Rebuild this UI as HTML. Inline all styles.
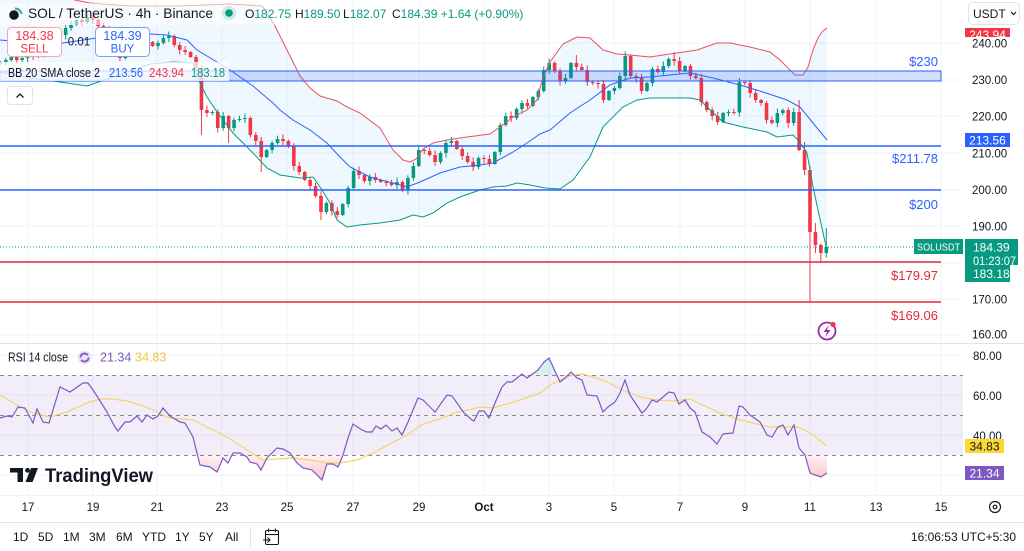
<!DOCTYPE html>
<html><head><meta charset="utf-8">
<style>
html,body{margin:0;padding:0;background:#fff;width:1024px;height:551px;overflow:hidden;}
svg{display:block;font-family:"Liberation Sans",Arial,sans-serif;}
</style></head>
<body>
<svg width="1024" height="551" viewBox="0 0 1024 551" xmlns="http://www.w3.org/2000/svg">
<defs>
<clipPath id="mainclip"><rect x="0" y="0" width="963" height="342"/></clipPath>
<clipPath id="osclip"><rect x="0" y="455" width="963" height="40"/></clipPath>
<clipPath id="obclip"><rect x="0" y="344" width="963" height="31"/></clipPath>
<clipPath id="redb"><rect x="965" y="28" width="45" height="9"/></clipPath>
<linearGradient id="osg" gradientUnits="userSpaceOnUse" x1="0" y1="455" x2="0" y2="482"><stop offset="0" stop-color="#f23645" stop-opacity="0.06"/><stop offset="1" stop-color="#f23645" stop-opacity="0.32"/></linearGradient>
</defs>
<rect width="1024" height="551" fill="#fff"/>

<!-- grid -->
<g stroke="#f0f3fa" stroke-width="1">
<line x1="28" y1="0" x2="28" y2="495"/><line x1="93" y1="0" x2="93" y2="495"/><line x1="157" y1="0" x2="157" y2="495"/><line x1="222" y1="0" x2="222" y2="495"/><line x1="287" y1="0" x2="287" y2="495"/><line x1="353" y1="0" x2="353" y2="495"/><line x1="419" y1="0" x2="419" y2="495"/><line x1="484" y1="0" x2="484" y2="495"/><line x1="549" y1="0" x2="549" y2="495"/><line x1="614" y1="0" x2="614" y2="495"/><line x1="680" y1="0" x2="680" y2="495"/><line x1="745" y1="0" x2="745" y2="495"/><line x1="810" y1="0" x2="810" y2="495"/><line x1="876" y1="0" x2="876" y2="495"/><line x1="941" y1="0" x2="941" y2="495"/>
<line x1="0" y1="43" x2="963" y2="43"/><line x1="0" y1="80" x2="963" y2="80"/><line x1="0" y1="116" x2="963" y2="116"/><line x1="0" y1="153" x2="963" y2="153"/><line x1="0" y1="190" x2="963" y2="190"/><line x1="0" y1="226" x2="963" y2="226"/><line x1="0" y1="263" x2="963" y2="263"/><line x1="0" y1="299" x2="963" y2="299"/><line x1="0" y1="335" x2="963" y2="335"/>
<line x1="0" y1="355" x2="963" y2="355"/><line x1="0" y1="395" x2="963" y2="395"/><line x1="0" y1="435" x2="963" y2="435"/><line x1="0" y1="475" x2="963" y2="475"/>
</g>

<g clip-path="url(#mainclip)">
<polygon id="bbfill" fill="#2196f3" fill-opacity="0.07" points="0,0"/>
<g id="candles"></g>
<polyline id="bbu" fill="none" stroke="#e8525d" stroke-width="1" points="0,0"/>
<polyline id="bbm" fill="none" stroke="#2962ff" stroke-width="1" points="0,0"/>
<polyline id="bbl" fill="none" stroke="#089981" stroke-width="1" points="0,0"/>
</g>

<!-- drawings -->
<rect x="0" y="71" width="941" height="10" fill="#2962ff" fill-opacity="0.2" stroke="#2962ff" stroke-width="1"/>
<line x1="0" y1="146" x2="941" y2="146" stroke="#2962ff" stroke-width="1.6"/>
<line x1="0" y1="190" x2="941" y2="190" stroke="#2962ff" stroke-width="1.6"/>
<line x1="0" y1="262" x2="941" y2="262" stroke="#e0283a" stroke-width="1.4"/>
<line x1="0" y1="302" x2="941" y2="302" stroke="#e0283a" stroke-width="1.4"/>
<line x1="0" y1="247" x2="913" y2="247" stroke="#089981" stroke-width="1" stroke-dasharray="1,2"/>

<g font-size="13" text-anchor="end">
<text x="938" y="66" fill="#2962ff">$230</text>
<text x="938" y="163" fill="#2962ff">$211.78</text>
<text x="938" y="209" fill="#2962ff">$200</text>
<text x="938" y="280" fill="#e0283a">$179.97</text>
<text x="938" y="320" fill="#e0283a">$169.06</text>
</g>

<!-- lightning icon -->
<circle cx="827" cy="331" r="8.5" fill="#fff" stroke="#9c27b0" stroke-width="1.8"/>
<path d="M829 325 L823.5 332 L827 332 L825 337.5 L830.5 330 L827 330 Z" fill="#9c27b0"/>
<circle cx="833" cy="324.5" r="2.6" fill="#f23645"/>

<!-- overlays for legend -->
<rect x="0" y="3" width="530" height="22" fill="#fff" fill-opacity="0.55"/>
<rect x="0" y="62" width="229" height="19" fill="#fff" fill-opacity="0.75"/>

<!-- header -->
<circle cx="14" cy="15" r="4.8" fill="#131722"/>
<path d="M15 8.5 A6.5 6.5 0 0 1 21.5 14" fill="none" stroke="#26a69a" stroke-width="2"/>
<text x="28" y="18" font-size="14" fill="#131722" textLength="185" lengthAdjust="spacingAndGlyphs">SOL / TetherUS · 4h · Binance</text>
<circle cx="229" cy="13" r="7" fill="#089981" fill-opacity="0.18"/>
<circle cx="229" cy="13" r="3.8" fill="#089981"/>
<text y="18" font-size="12"><tspan x="245" fill="#131722">O</tspan><tspan fill="#089981">182.75</tspan><tspan x="295" fill="#131722">H</tspan><tspan fill="#089981">189.50</tspan><tspan x="343" fill="#131722">L</tspan><tspan fill="#089981">182.07</tspan><tspan x="392" fill="#131722">C</tspan><tspan fill="#089981">184.39 +1.64 (+0.90%)</tspan></text>

<rect x="7.5" y="27.5" width="54" height="29" rx="4" fill="#fff" stroke="#f7a5ac" stroke-width="1"/>
<text x="34.5" y="40" font-size="12.5" fill="#f23645" text-anchor="middle">184.38</text>
<text x="34.5" y="52.5" font-size="11.5" fill="#f23645" text-anchor="middle">SELL</text>
<text x="79" y="45.5" font-size="11.5" fill="#131722" text-anchor="middle">0.01</text>
<rect x="95.5" y="27.5" width="54" height="29" rx="4" fill="#fff" stroke="#7f9ff0" stroke-width="1"/>
<text x="122.5" y="40" font-size="12.5" fill="#2962ff" text-anchor="middle">184.39</text>
<text x="122.5" y="52.5" font-size="11.5" fill="#2962ff" text-anchor="middle">BUY</text>

<text x="8" y="77" font-size="12.5" fill="#131722" textLength="92" lengthAdjust="spacingAndGlyphs">BB 20 SMA close 2</text>
<text x="109" y="77" font-size="12.5" fill="#2962ff" textLength="34" lengthAdjust="spacingAndGlyphs">213.56</text>
<text x="149" y="77" font-size="12.5" fill="#f23645" textLength="35" lengthAdjust="spacingAndGlyphs">243.94</text>
<text x="191" y="77" font-size="12.5" fill="#089981" textLength="34" lengthAdjust="spacingAndGlyphs">183.18</text>

<rect x="7.5" y="86.5" width="25" height="18" rx="3" fill="#fff" stroke="#e0e3eb"/>
<path d="M16.5 97.5 L20 94 L23.5 97.5" fill="none" stroke="#131722" stroke-width="1.3"/>

<!-- price axis -->
<rect x="968.5" y="2.5" width="51" height="22" rx="4" fill="#fff" stroke="#e0e3eb"/>
<text x="973" y="18" font-size="12" fill="#131722">USDT</text>
<path d="M1011 12 L1013.5 14.5 L1016 12" fill="none" stroke="#131722" stroke-width="1.2"/>
<rect x="965" y="28" width="45" height="9" fill="#f23645"/>
<text x="987.5" y="39" font-size="12" fill="#fff" text-anchor="middle" clip-path="url(#redb)">243.94</text>
<g font-size="11.5" fill="#131722">
<text x="972" y="47.5">240.00</text>
<text x="972" y="84">230.00</text>
<text x="972" y="120.5">220.00</text>
<text x="972" y="157.5">210.00</text>
<text x="972" y="194">200.00</text>
<text x="972" y="230.5">190.00</text>
<text x="972" y="303.5">170.00</text>
<text x="972" y="338.5">160.00</text>
</g>
<rect x="965" y="133" width="45" height="14" fill="#2962ff"/>
<text x="987.5" y="144.5" font-size="12" fill="#fff" text-anchor="middle">213.56</text>
<rect x="914" y="239" width="49" height="15" fill="#089981"/>
<text x="917" y="250.5" font-size="10.5" fill="#fff" textLength="43" lengthAdjust="spacingAndGlyphs">SOLUSDT</text>
<rect x="965" y="239" width="53" height="26" fill="#089981"/>
<rect x="965" y="264" width="45" height="18" fill="#089981"/>
<text x="973" y="251.5" font-size="12" fill="#fff">184.39</text>
<text x="973" y="265" font-size="12" fill="#fff" textLength="43" lengthAdjust="spacingAndGlyphs">01:23:07</text>
<text x="973" y="278" font-size="12" fill="#fff">183.18</text>

<!-- pane separator -->
<line x1="0" y1="343.5" x2="1024" y2="343.5" stroke="#e0e3eb"/>

<!-- RSI pane -->
<rect x="0" y="375" width="963" height="80" fill="#7e57c2" fill-opacity="0.1"/>
<g stroke="#868993" stroke-width="1" stroke-dasharray="4,4">
<line x1="0" y1="375.5" x2="963" y2="375.5"/><line x1="0" y1="415.5" x2="963" y2="415.5"/><line x1="0" y1="455.5" x2="963" y2="455.5"/>
</g>
<polygon id="osfill" clip-path="url(#osclip)" fill="url(#osg)" points="0,0"/>
<polygon id="obfill" clip-path="url(#obclip)" fill="#089981" fill-opacity="0.15" points="0,0"/>
<polyline id="rsima" fill="none" stroke="#f5d36b" stroke-width="1.2" points="0,0"/>
<polyline id="rsi" fill="none" stroke="#7e57c2" stroke-width="1.2" points="0,0"/>

<text x="8" y="361.5" font-size="12.5" fill="#131722" textLength="60" lengthAdjust="spacingAndGlyphs">RSI 14 close</text>
<circle cx="84.5" cy="357.5" r="7" fill="#7e57c2" fill-opacity="0.15"/>
<path d="M80.5 357.5 A4 4 0 0 1 87.8 355.2 M88.5 357.5 A4 4 0 0 1 81.2 359.8" fill="none" stroke="#7e57c2" stroke-width="1.8"/>
<text y="361.5" font-size="12.5"><tspan x="100" fill="#7e57c2">21.34</tspan><tspan x="135" fill="#f4c53a">34.83</tspan></text>

<g font-size="11.5" fill="#131722">
<text x="973" y="360">80.00</text>
<text x="973" y="400">60.00</text>
<text x="973" y="440">40.00</text>
</g>
<rect x="965" y="439" width="39" height="14" fill="#fdd835"/>
<text x="984.5" y="450.5" font-size="12" fill="#131722" text-anchor="middle">34.83</text>
<rect x="965" y="466" width="39" height="14" fill="#7e57c2"/>
<text x="984.5" y="477.5" font-size="12" fill="#fff" text-anchor="middle">21.34</text>

<!-- TradingView logo -->
<rect x="10" y="468" width="13" height="4.5" fill="#131722"/>
<rect x="17.5" y="468" width="5.5" height="14" fill="#131722"/>
<circle cx="27.5" cy="470.3" r="2.4" fill="#131722"/>
<polygon points="31,468 38,468 32.5,482 25.5,482" fill="#131722"/>
<text x="45" y="482" font-size="19" font-weight="bold" fill="#131722" textLength="108" lengthAdjust="spacingAndGlyphs">TradingView</text>

<!-- time axis -->
<line x1="0" y1="495.5" x2="1024" y2="495.5" stroke="#f0f3fa"/>
<g font-size="11.5" fill="#131722" text-anchor="middle">
<text x="28" y="511">17</text><text x="93" y="511">19</text><text x="157" y="511">21</text><text x="222" y="511">23</text><text x="287" y="511">25</text><text x="353" y="511">27</text><text x="419" y="511">29</text><text x="484" y="511" font-weight="bold">Oct</text><text x="549" y="511">3</text><text x="614" y="511">5</text><text x="680" y="511">7</text><text x="745" y="511">9</text><text x="810" y="511">11</text><text x="876" y="511">13</text><text x="941" y="511">15</text>
</g>
<circle cx="995" cy="507" r="5.5" fill="none" stroke="#131722" stroke-width="1.2"/>
<circle cx="995" cy="507" r="1.8" fill="none" stroke="#131722" stroke-width="1.2"/>

<!-- bottom toolbar -->
<line x1="0" y1="522.5" x2="1024" y2="522.5" stroke="#e0e3eb"/>
<g font-size="12" fill="#131722">
<text x="13" y="541">1D</text><text x="38" y="541">5D</text><text x="63" y="541">1M</text><text x="89" y="541">3M</text><text x="116" y="541">6M</text><text x="142" y="541">YTD</text><text x="175" y="541">1Y</text><text x="199" y="541">5Y</text><text x="225" y="541">All</text>
<text x="1016" y="541" text-anchor="end">16:06:53 UTC+5:30</text>
</g>
<line x1="250.5" y1="528" x2="250.5" y2="547" stroke="#e0e3eb"/>
<rect x="265.5" y="530.5" width="13" height="14" rx="1.5" fill="none" stroke="#131722" stroke-width="1.1"/>
<line x1="265.5" y1="534.5" x2="278.5" y2="534.5" stroke="#131722" stroke-width="1.1"/>
<line x1="268.5" y1="528.5" x2="268.5" y2="532" stroke="#131722" stroke-width="1.1"/>
<line x1="275.5" y1="528.5" x2="275.5" y2="532" stroke="#131722" stroke-width="1.1"/>
<path d="M263 540 L270 540 M267.5 537.5 L270 540 L267.5 542.5" fill="none" stroke="#131722" stroke-width="1.1"/>
</svg>

<script>
(function(){
var U=[[0,-10],[30,-7],[60,-3],[90,3],[130,6],[180,6],[230,4],[262,6],[268,14],[275,26],[283,42],[292,60],[300,76],[310,88],[320,96],[337,101],[347,107],[360,113],[380,128],[393,150],[403,160],[410,162],[416,159],[423,149],[433,143],[447,140],[467,137],[490,134],[500,127],[513,117],[527,110],[537,100],[543,77],[550,62],[563,44],[577,37],[590,38],[603,50],[617,54],[630,55],[650,57],[663,55],[677,53],[697,50],[717,43],[730,43],[750,47],[770,52],[780,60],[787,67],[795,75],[803,75],[808,67],[813,50],[818,38],[822,32],[827,28]];
var M=[[0,40],[33,43],[63,43],[97,38],[130,35],[150,34],[167,35],[187,40],[197,50],[217,62],[233,72],[253,86],[273,103],[280,110],[293,120],[310,130],[327,143],[340,157],[350,167],[370,177],[393,183],[407,187],[420,182],[440,173],[460,167],[480,165],[493,163],[513,152],[527,143],[540,134],[550,130],[570,113],[590,100],[610,85],[630,78],[650,77],[670,75],[690,73],[713,78],[740,85],[763,92],[787,100],[800,107],[813,123],[827,140]];
var L=[[0,72],[30,78],[60,82],[87,86],[110,78],[133,70],[150,64],[173,62],[193,63],[200,83],[207,97],[217,112],[233,133],[253,153],[267,168],[280,175],[300,178],[313,177],[322,190],[330,203],[337,220],[347,227],[360,225],[380,223],[400,220],[413,215],[423,217],[433,213],[447,203],[460,197],[480,190],[493,187],[507,186],[517,183],[530,185],[545,188],[560,189],[573,180],[590,157],[603,127],[623,107],[637,100],[650,98],[690,98],[700,100],[707,107],[723,122],[743,127],[767,132],[777,137],[793,135],[798,140],[807,153],[813,187],[827,251]];
var R=[[0,418],[7,416],[12,417],[18,407],[25,408],[33,423],[37,409],[43,422],[49,423],[60,387],[70,392],[83,383],[88,383],[95,393],[107,412],[115,427],[118,431],[125,422],[130,422],[137,416],[142,422],[147,415],[153,419],[158,416],[163,408],[170,416],[180,422],[185,423],[193,437],[200,465],[210,467],[217,472],[223,458],[228,463],[233,453],[240,453],[247,457],[250,462],[257,464],[261,470],[267,458],[277,448],[283,449],[290,453],[297,463],[303,468],[312,470],[322,480],[327,464],[333,464],[338,467],[343,455],[348,438],[353,424],[362,430],[367,432],[372,432],[376,426],[381,429],[386,425],[392,431],[397,428],[402,435],[408,422],[418,398],[423,400],[428,405],[435,412],[447,395],[452,396],[457,403],[464,413],[472,420],[474,421],[479,411],[484,411],[489,418],[495,403],[502,387],[507,382],[512,382],[522,374],[527,378],[538,370],[544,362],[549,358],[560,382],[565,378],[571,372],[577,378],[582,380],[587,395],[597,396],[603,412],[608,407],[615,402],[620,393],[625,380],[630,395],[642,413],[647,408],[652,400],[657,402],[663,397],[669,392],[674,393],[679,404],[685,400],[690,408],[695,412],[702,432],[710,437],[717,444],[723,434],[733,433],[739,406],[743,407],[750,415],[760,422],[767,435],[772,437],[778,427],[783,425],[788,435],[794,425],[799,448],[805,455],[810,473],[815,475],[821,477],[827,473]];
var A=[[0,395],[17,405],[33,413],[50,417],[67,412],[87,403],[100,399],[113,399],[127,401],[140,405],[153,410],[167,417],[180,419],[193,420],[207,427],[227,437],[247,450],[263,460],[277,459],[293,458],[310,460],[327,463],[340,463],[357,460],[373,453],[390,444],[407,435],[423,424],[440,419],[457,412],[473,409],[480,407],[493,408],[507,404],[523,399],[540,393],[550,385],[560,380],[573,375],[583,374],[593,377],[607,382],[623,390],[640,397],[657,400],[673,401],[690,399],[707,407],[720,413],[737,419],[757,424],[770,427],[783,427],[797,427],[807,431],[817,438],[827,446]];
function P(a){return a.map(function(p){return p[0]+','+p[1];}).join(' ');}
function S(id,v){var e=document.getElementById(id); if(e) e.setAttribute('points',v);}
S('bbu',P(U));S('bbm',P(M));S('bbl',P(L));
S('bbfill',P(U.concat(L.slice().reverse())));
S('rsi',P(R));S('rsima',P(A));
S('osfill',P(R)+' 827,455 0,455');
S('obfill',P(R)+' 827,375 0,375');
var C=[62,60,57,60,58,55,57,52,54,48,42,35,28,25,20,22,17,20,26,30,40,48,58,52,48,44,46,42,46,43,38,36,45,50,52,57,68,110,113,112,128,116,128,120,119,118,135,141,157,150,143,139,141,146,166,172,180,186,196,212,203,211,215,204,188,171,175,181,177,180,182,183,185,182,190,178,166,150,151,155,162,153,143,141,149,156,162,167,158,159,164,152,125,116,118,109,103,106,97,91,70,63,71,81,78,63,67,70,82,83,84,100,91,88,76,56,76,78,91,83,69,72,66,59,61,71,66,76,78,102,110,116,122,113,112,112.5,82,83,93,100,103,120,123,113,110,123,112,150,170,232,245,253,247];
var H={106:55,124:52,147:100,148:142,150:223,152:228,77:146,136:78};
var Lo={37:135,42:143,48:172,59:220,148:175,149:302,150:253,151:262,85:160,140:106};
var ns='http://www.w3.org/2000/svg';
var g=document.getElementById('candles');
for(var i=0;i<C.length;i++){
 var x=0.43+5.4333*i;
 var o=i?C[i-1]:64, c=C[i];
 var up=c<o; var col=up?'#089981':'#f23645';
 var t=Math.min(o,c), b=Math.max(o,c); if(b-t<1){b=t+1;}
 var hi=t-(1+(i*37%7)*0.6), lo=b+(1+(i*53%7)*0.6);
 if(H[i]!==undefined)hi=H[i]; if(Lo[i]!==undefined)lo=Lo[i];
 var ln=document.createElementNS(ns,'line');
 ln.setAttribute('x1',x);ln.setAttribute('x2',x);ln.setAttribute('y1',hi);ln.setAttribute('y2',lo);
 ln.setAttribute('stroke',col);ln.setAttribute('stroke-width','1');
 g.appendChild(ln);
 var r=document.createElementNS(ns,'rect');
 r.setAttribute('x',x-1.8);r.setAttribute('y',t);r.setAttribute('width','3.6');r.setAttribute('height',b-t);
 r.setAttribute('fill',col);
 g.appendChild(r);
}
})();
</script>
</body></html>
